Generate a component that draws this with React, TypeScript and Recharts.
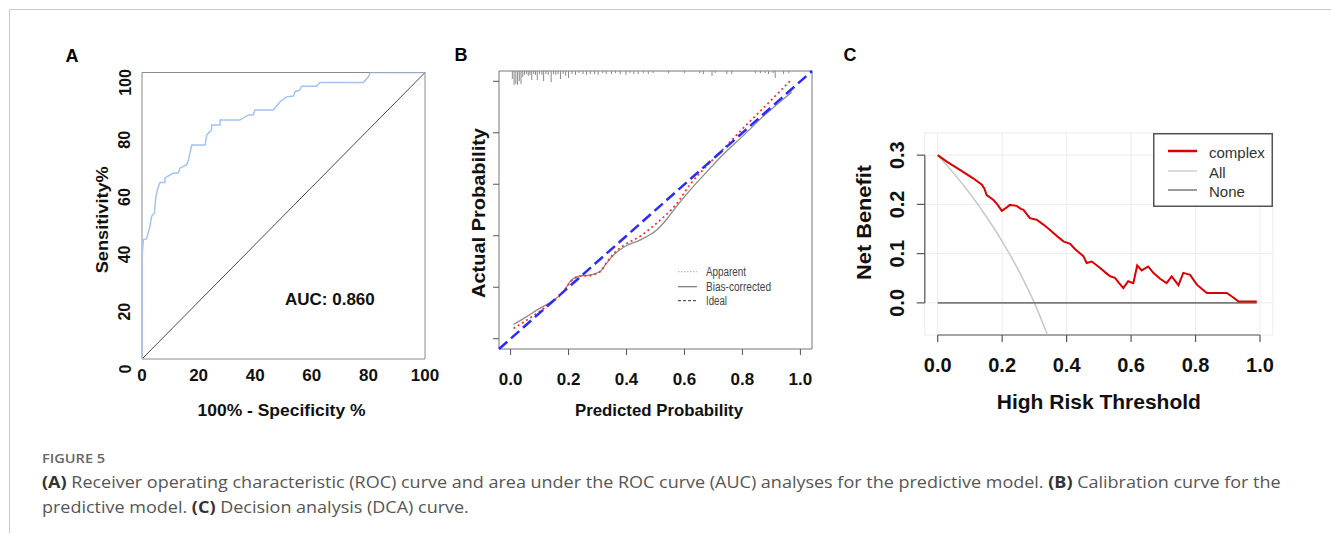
import React from "react";
import {
  ComposedChart,
  Line,
  XAxis,
  YAxis,
  ReferenceLine,
  ReferenceArea,
  ReferenceDot,
  CartesianGrid,
  Legend,
} from "recharts";

const FONT = "'Liberation Sans', Arial, Helvetica, sans-serif";

/* ------------------------------------------------------------------ */
/*  A  ROC                                                             */
/* ------------------------------------------------------------------ */

const ROC_FPR = [
  0, 0, 0.5, 1.6, 2.8, 3.4, 4.4, 4.9, 5.8, 6.4, 8.1, 8.1, 11.1, 12.8, 13.4, 15.8, 16.4, 17.6,
  22.3, 22.9, 24.6, 24.6, 27.6, 27.6, 34.6, 37.6, 39.3, 39.9, 46.4, 48.8, 51.1, 53.5, 54.1,
  55.8, 56.4, 61.7, 62.9, 78.2, 80.0, 80.6, 100,
];
const ROC_TPR = [
  0, 35.9, 41.7, 41.9, 46.3, 49.8, 51, 56.8, 60.3, 61.6, 61.6, 63.2, 64.9, 64.9, 66.6, 67.8, 69.5,
  74.7, 74.7, 78.2, 80, 81.7, 81.7, 83.4, 83.4, 85.2, 85.2, 86.9, 86.9, 89.8, 91.5, 91.8, 93.3,
  93.9, 95.2, 95.2, 96.5, 96.5, 98.5, 100, 100,
];
const ROC_TICKS = [0, 20, 40, 60, 80, 100];
const AUC_LABEL = "AUC: 0.860";
const AUC_X = 66.4;
const AUC_Y = 20.9;

/* ------------------------------------------------------------------ */
/*  B  CALIBRATION                                                     */
/* ------------------------------------------------------------------ */

const CAL_PRED = [
  0.01, 0.05, 0.1, 0.14, 0.18, 0.21, 0.24, 0.27, 0.31, 0.33, 0.36, 0.39, 0.45, 0.5, 0.54, 0.57,
  0.62, 0.68, 0.73, 0.8, 0.88, 0.97,
];
const CAL_APPARENT = [
  0.04, 0.068, 0.106, 0.139, 0.179, 0.225, 0.243, 0.245, 0.262, 0.294, 0.335, 0.362, 0.4, 0.445,
  0.485, 0.52, 0.6, 0.675, 0.732, 0.815, 0.905, 1.008,
];
const CAL_BIAS = [
  0.055, 0.082, 0.118, 0.143, 0.18, 0.228, 0.244, 0.247, 0.262, 0.292, 0.33, 0.355, 0.385, 0.418,
  0.466, 0.51, 0.578, 0.652, 0.712, 0.786, 0.872, 0.958,
];
const CAL_IDEAL = [-0.04, 1.04];
const RUG_X = [
  0.006, 0.012, 0.018, 0.024, 0.03, 0.036, 0.042, 0.048, 0.055, 0.061, 0.067, 0.073, 0.08, 0.086,
  0.092, 0.1, 0.108, 0.114, 0.122, 0.13, 0.14, 0.148, 0.156, 0.164, 0.172, 0.181, 0.19, 0.2, 0.212,
  0.224, 0.236, 0.25, 0.262, 0.275, 0.29, 0.302, 0.318, 0.33, 0.348, 0.362, 0.378, 0.398, 0.412,
  0.425, 0.44, 0.458, 0.475, 0.492, 0.545, 0.6, 0.652, 0.665, 0.695, 0.706, 0.746, 0.763, 0.845,
  0.862, 0.878, 0.89, 0.906, 0.913, 0.942, 0.96,
];
const RUG_H = [
  0.031, 0.054, 0.05, 0.054, 0.039, 0.05, 0.023, 0.015, 0.012, 0.019, 0.015, 0.035, 0.012, 0.015,
  0.035, 0.012, 0.015, 0.039, 0.012, 0.015, 0.043, 0.012, 0.015, 0.012, 0.031, 0.012, 0.019, 0.027,
  0.012, 0.015, 0.008, 0.012, 0.015, 0.012, 0.012, 0.015, 0.008, 0.012, 0.012, 0.008, 0.012, 0.015,
  0.008, 0.012, 0.012, 0.008, 0.012, 0.008, 0.008, 0.008, 0.008, 0.012, 0.019, 0.008, 0.012, 0.012,
  0.008, 0.008, 0.008, 0.012, 0.008, 0.027, 0.012, 0.008,
];
const CAL_TICKS = [0, 0.2, 0.4, 0.6, 0.8, 1.0];
const CAL_LEGEND = ["Apparent", "Bias-corrected", "Ideal"];

/* ------------------------------------------------------------------ */
/*  C  DECISION CURVE                                                  */
/* ------------------------------------------------------------------ */

const DCA_T = [
  0, 0.028, 0.069, 0.11, 0.137, 0.145, 0.152, 0.173, 0.185, 0.199, 0.212, 0.224, 0.245, 0.258,
  0.266, 0.286, 0.307, 0.328, 0.345, 0.359, 0.375, 0.39, 0.411, 0.425, 0.441, 0.452, 0.462, 0.478,
  0.492, 0.504, 0.52, 0.535, 0.55, 0.563, 0.576, 0.591, 0.607, 0.619, 0.633, 0.653, 0.669, 0.69,
  0.71, 0.726, 0.747, 0.762, 0.783, 0.804, 0.82, 0.835, 0.897, 0.915, 0.933, 0.99,
];
const DCA_COMPLEX = [
  0.3, 0.287, 0.27, 0.253, 0.24, 0.232, 0.219, 0.209, 0.2, 0.187, 0.193, 0.199, 0.197, 0.191,
  0.189, 0.172, 0.169, 0.159, 0.15, 0.142, 0.133, 0.125, 0.12, 0.11, 0.101, 0.095, 0.081, 0.084,
  0.077, 0.071, 0.062, 0.054, 0.051, 0.04, 0.03, 0.044, 0.04, 0.076, 0.066, 0.074, 0.061, 0.049,
  0.04, 0.054, 0.036, 0.061, 0.057, 0.037, 0.028, 0.02, 0.02, 0.012, 0.003, 0.003,
];
const ALL_T = [0, 0.05, 0.1, 0.15, 0.2, 0.25, 0.3, 0.34];
const ALL_NB = [0.3, 0.263, 0.222, 0.176, 0.125, 0.067, 0.0, -0.064];
const NONE_T = [0, 0.99];
const NONE_NB = [0, 0];
const DCA_X_TICKS = [0, 0.2, 0.4, 0.6, 0.8, 1.0];
const DCA_Y_TICKS = [0, 0.1, 0.2, 0.3];
const DCA_LEGEND = ["complex", "All", "None"];

const CAPTION_TITLE = "FIGURE 5";

/* ------------------------------------------------------------------ */

const pairs = (xs: number[], ys: number[]) => xs.map((x, i) => ({ x, y: ys[i] }));

const CAL_MIN = -0.04;
const CAL_MAX = 1.04;
const DCA_Y_MIN = -0.0652;
const DCA_Y_MAX = 0.3452;

// eslint-disable-next-line @typescript-eslint/no-explicit-any
const xTick = (size: number, dy: number, fmt: (v: number) => string) => (p: any) => (
  <text
    x={p.x}
    y={p.y + dy}
    textAnchor="middle"
    dominantBaseline="central"
    fontFamily={FONT}
    fontWeight={700}
    fontSize={size}
    fill="#111"
  >
    {fmt(p.payload.value)}
  </text>
);

// eslint-disable-next-line @typescript-eslint/no-explicit-any
const yTickRot = (size: number, dx: number, dy: number, fmt: (v: number) => string) => (p: any) => {
  const cx = p.x + dx;
  const cy = p.y + dy;
  return (
    <text
      x={cx}
      y={cy}
      transform={`rotate(-90 ${cx} ${cy})`}
      textAnchor="middle"
      dominantBaseline="central"
      fontFamily={FONT}
      fontWeight={700}
      fontSize={size}
      fill="#111"
    >
      {fmt(p.payload.value)}
    </text>
  );
};

const noTick = () => <g />;

// eslint-disable-next-line @typescript-eslint/no-explicit-any
const xTitle = (text: string, dx: number, dy: number, size: number, len?: number) => (props: any) => {
  const vb = props.viewBox;
  return (
    <text
      x={vb.x + vb.width / 2 + dx}
      y={vb.y + dy}
      textAnchor="middle"
      dominantBaseline="central"
      fontFamily={FONT}
      fontWeight={700}
      fontSize={size}
      fill="#111"
      textLength={len}
      lengthAdjust="spacingAndGlyphs"
    >
      {text}
    </text>
  );
};

// eslint-disable-next-line @typescript-eslint/no-explicit-any
const yTitle = (text: string, dx: number, dy: number, size: number, len?: number) => (props: any) => {
  const vb = props.viewBox;
  const cx = vb.x + dx;
  const cy = vb.y + vb.height / 2 + dy;
  return (
    <text
      x={cx}
      y={cy}
      transform={`rotate(-90 ${cx} ${cy})`}
      textAnchor="middle"
      dominantBaseline="central"
      fontFamily={FONT}
      fontWeight={700}
      fontSize={size}
      fill="#111"
      textLength={len}
      lengthAdjust="spacingAndGlyphs"
    >
      {text}
    </text>
  );
};

const int = (v: number) => String(v);
const one = (v: number) => v.toFixed(1);

/* ------------------------------------------------------------------ */

function RocChart() {
  const data = pairs(ROC_FPR, ROC_TPR);
  return (
    <ComposedChart width={460} height={440} margin={{ top: 72.5, right: 35, bottom: 51, left: 112 }}>
      <XAxis
        type="number"
        dataKey="x"
        domain={[0, 100]}
        ticks={ROC_TICKS}
        allowDataOverflow
        height={30}
        axisLine={false}
        tickLine={false}
        tickSize={0}
        tickMargin={0}
        tick={xTick(17, 16, int)}
        label={xTitle("100% - Specificity %", -2, 51, 17, 168)}
      />
      <YAxis
        type="number"
        dataKey="y"
        domain={[0, 100]}
        ticks={ROC_TICKS}
        allowDataOverflow
        width={30}
        axisLine={false}
        tickLine={false}
        tickSize={0}
        tickMargin={0}
        tick={yTickRot(16, -17, 10, int)}
        label={yTitle("Sensitivity%", -10, 4, 17, 107)}
      />
      <ReferenceArea x1={0} x2={100} y1={0} y2={100} fill="none" stroke="#8a8a8a" strokeWidth={1} />
      <ReferenceLine
        segment={[
          { x: 0, y: 0 },
          { x: 100, y: 100 },
        ]}
        stroke="#4a4a4a"
        strokeWidth={1}
      />
      <Line
        data={data}
        dataKey="y"
        type="linear"
        stroke="#a3c4ef"
        strokeWidth={1.5}
        dot={false}
        isAnimationActive={false}
      />
      <ReferenceDot
        x={AUC_X}
        y={AUC_Y}
        r={0}
        fill="none"
        stroke="none"
        label={{
          value: AUC_LABEL,
          position: "center",
          fontSize: 17,
          fontWeight: 700,
          fontFamily: FONT,
          fill: "#111",
        }}
      />
    </ComposedChart>
  );
}

function CalLegend() {
  const rows = [9.7, 24.7, 38.7];
  const styles = [
    { stroke: "#aaaaaa", dash: "1.5 1.5", w: 1 },
    { stroke: "#777777", dash: undefined, w: 1.2 },
    { stroke: "#333333", dash: "3 2", w: 1 },
  ];
  return (
    <svg width={110} height={48} style={{ display: "block" }}>
      {CAL_LEGEND.map((name, i) => (
        <g key={name}>
          <line
            x1={0}
            x2={19}
            y1={rows[i]}
            y2={rows[i]}
            stroke={styles[i].stroke}
            strokeWidth={styles[i].w}
            strokeDasharray={styles[i].dash}
          />
          <text
            x={28}
            y={rows[i]}
            dominantBaseline="central"
            fontFamily={FONT}
            fontSize={12.5}
            fill="#444"
            textLength={[40, 65, 21][i]}
            lengthAdjust="spacingAndGlyphs"
          >
            {name}
          </text>
        </g>
      ))}
    </svg>
  );
}

function CalibrationChart() {
  const apparent = pairs(CAL_PRED, CAL_APPARENT);
  const bias = pairs(CAL_PRED, CAL_BIAS);
  const rug = RUG_X.flatMap((x, i) => [
    { x, y: CAL_MAX },
    { x, y: CAL_MAX - RUG_H[i] },
    { x, y: null },
  ]);
  return (
    <ComposedChart width={400} height={440} margin={{ top: 71, right: 28, bottom: 61, left: 29 }}>
      <XAxis
        type="number"
        dataKey="x"
        domain={[CAL_MIN, CAL_MAX]}
        ticks={CAL_TICKS}
        allowDataOverflow
        height={30}
        axisLine={false}
        tickLine={{ stroke: "#555", strokeWidth: 1 }}
        tickSize={6}
        tickMargin={0}
        tick={xTick(17, 24, one)}
        label={xTitle("Predicted Probability", 3.5, 61, 17, 168)}
      />
      <YAxis
        type="number"
        dataKey="y"
        domain={[CAL_MIN, CAL_MAX]}
        ticks={CAL_TICKS}
        allowDataOverflow
        width={30}
        axisLine={false}
        tickLine={{ stroke: "#555", strokeWidth: 1 }}
        tickSize={6}
        tickMargin={0}
        tick={noTick}
        label={yTitle("Actual Probability", 10, 3, 18, 170)}
      />
      <ReferenceArea
        x1={CAL_MIN}
        x2={CAL_MAX}
        y1={CAL_MIN}
        y2={CAL_MAX}
        fill="none"
        stroke="#777"
        strokeWidth={1}
      />
      <Line
        data={rug}
        dataKey="y"
        type="linear"
        stroke="#888"
        strokeWidth={1}
        dot={false}
        isAnimationActive={false}
      />
      <Line
        data={bias}
        dataKey="y"
        type="monotone"
        stroke="#8c8c8c"
        strokeWidth={1.3}
        dot={false}
        isAnimationActive={false}
      />
      <Line
        data={apparent}
        dataKey="y"
        type="monotone"
        stroke="#ff3333"
        strokeWidth={1.8}
        strokeDasharray="2 3"
        dot={false}
        isAnimationActive={false}
      />
      <ReferenceLine
        segment={[
          { x: CAL_IDEAL[0], y: CAL_IDEAL[0] },
          { x: CAL_IDEAL[1], y: CAL_IDEAL[1] },
        ]}
        stroke="#2b2bff"
        strokeWidth={2.5}
        strokeDasharray="11 5"
      />
      <Legend
        layout="vertical"
        align="center"
        verticalAlign="middle"
        width={110}
        height={48}
        wrapperStyle={{ left: 238, top: 262, width: 110, height: 48 }}
        content={() => <CalLegend />}
      />
    </ComposedChart>
  );
}

function DcaLegend() {
  const rows = [18, 38, 57];
  const styles = [
    { stroke: "#dd0000", w: 2.5 },
    { stroke: "#cfcfcf", w: 1.5 },
    { stroke: "#7a7a7a", w: 1.5 },
  ];
  return (
    <svg width={120} height={74} style={{ display: "block" }}>
      <rect x={0.75} y={0.75} width={118.5} height={72.5} fill="#fff" stroke="#555" strokeWidth={1.5} />
      {DCA_LEGEND.map((name, i) => (
        <g key={name}>
          <line x1={15} x2={44} y1={rows[i]} y2={rows[i]} stroke={styles[i].stroke} strokeWidth={styles[i].w} />
          <text
            x={56}
            y={rows[i] + 1.5}
            dominantBaseline="central"
            fontFamily={FONT}
            fontSize={15}
            fill="#333"
          >
            {name}
          </text>
        </g>
      ))}
    </svg>
  );
}

function DcaChart() {
  const complex = pairs(DCA_T, DCA_COMPLEX);
  const all = pairs(ALL_T, ALL_NB);
  const none = pairs(NONE_T, NONE_NB);
  return (
    <ComposedChart width={501} height={440} margin={{ top: 132.9, right: 58.1, bottom: 75, left: 54.8 }}>
      <CartesianGrid stroke="#ececec" strokeWidth={1} />
      <XAxis
        type="number"
        dataKey="x"
        domain={[-0.04, 1.04]}
        ticks={DCA_X_TICKS}
        allowDataOverflow
        height={30}
        axisLine={false}
        tickLine={{ stroke: "#555", strokeWidth: 1.2 }}
        tickSize={7}
        tickMargin={0}
        tick={xTick(20, 23, one)}
        label={xTitle("High Risk Threshold", 0, 66, 21)}
      />
      <YAxis
        type="number"
        dataKey="y"
        domain={[DCA_Y_MIN, DCA_Y_MAX]}
        ticks={DCA_Y_TICKS}
        allowDataOverflow
        width={40}
        axisLine={false}
        tickLine={{ stroke: "#555", strokeWidth: 1.2 }}
        tickSize={8}
        tickMargin={0}
        tick={yTickRot(20, -20, 0, one)}
        label={yTitle("Net Benefit", -21, -11.5, 21, 115)}
      />
      <ReferenceLine
        segment={[
          { x: 0, y: DCA_Y_MIN },
          { x: 1, y: DCA_Y_MIN },
        ]}
        stroke="#555"
        strokeWidth={1.2}
      />
      <ReferenceLine
        segment={[
          { x: -0.04, y: 0 },
          { x: -0.04, y: 0.3 },
        ]}
        stroke="#555"
        strokeWidth={1.2}
      />
      <Line data={all} dataKey="y" type="monotone" stroke="#c8c8c8" strokeWidth={1.5} dot={false} isAnimationActive={false} />
      <Line data={none} dataKey="y" type="linear" stroke="#7a7a7a" strokeWidth={1.8} dot={false} isAnimationActive={false} />
      <Line data={complex} dataKey="y" type="linear" stroke="#dd0000" strokeWidth={2} dot={false} isAnimationActive={false} />
      <Legend
        layout="vertical"
        align="center"
        verticalAlign="middle"
        width={120}
        height={74}
        wrapperStyle={{ left: 323.3, top: 132.7, width: 120, height: 74 }}
        content={() => <DcaLegend />}
      />
    </ComposedChart>
  );
}

const panelLetter = (ch: string, x: number, y: number) => (
  <div
    style={{
      position: "absolute",
      left: x,
      top: y,
      transform: "translate(-50%, -50%)",
      fontFamily: FONT,
      fontWeight: 700,
      fontSize: 18,
      lineHeight: 1,
      color: "#000",
    }}
  >
    {ch}
  </div>
);

export default function App() {
  return (
    <div style={{ position: "absolute", left: 0, top: 0, width: 1331, height: 537, background: "#fff", overflow: "hidden" }}>
      <div
        style={{
          position: "absolute",
          left: 9,
          top: 9,
          width: 1322,
          height: 524,
          borderTop: "1px solid #cacaca",
          borderLeft: "1px solid #cacaca",
          boxSizing: "border-box",
        }}
      />
      <div style={{ position: "absolute", left: 0, top: 0 }}>
        <RocChart />
      </div>
      <div style={{ position: "absolute", left: 440, top: 0 }}>
        <CalibrationChart />
      </div>
      <div style={{ position: "absolute", left: 830, top: 0 }}>
        <DcaChart />
      </div>
      {panelLetter("A", 72, 56)}
      {panelLetter("B", 461, 55)}
      {panelLetter("C", 850, 55)}
      <div
        style={{
          position: "absolute",
          left: 42,
          top: 449,
          fontFamily: "'Open Sans', 'Noto Sans', sans-serif",
          fontWeight: 600,
          fontSize: 13,
          lineHeight: "18px",
          color: "#666",
          transform: "scaleX(1.12)",
          transformOrigin: "0 0",
        }}
      >
        {CAPTION_TITLE}
      </div>
      <div
        style={{
          position: "absolute",
          left: 42,
          top: 470,
          fontFamily: "'Open Sans', 'Noto Sans', sans-serif",
          fontSize: 16,
          lineHeight: "25px",
          color: "#555",
          whiteSpace: "nowrap",
          transform: "scaleX(1.124)",
          transformOrigin: "0 0",
        }}
      >
        <b style={{ color: "#333" }}>(A)</b> Receiver operating characteristic (ROC) curve and area under the ROC curve
        (AUC) analyses for the predictive model. <b style={{ color: "#333" }}>(B)</b> Calibration curve for the
        <br />
        predictive model. <b style={{ color: "#333" }}>(C)</b> Decision analysis (DCA) curve.
      </div>
    </div>
  );
}
